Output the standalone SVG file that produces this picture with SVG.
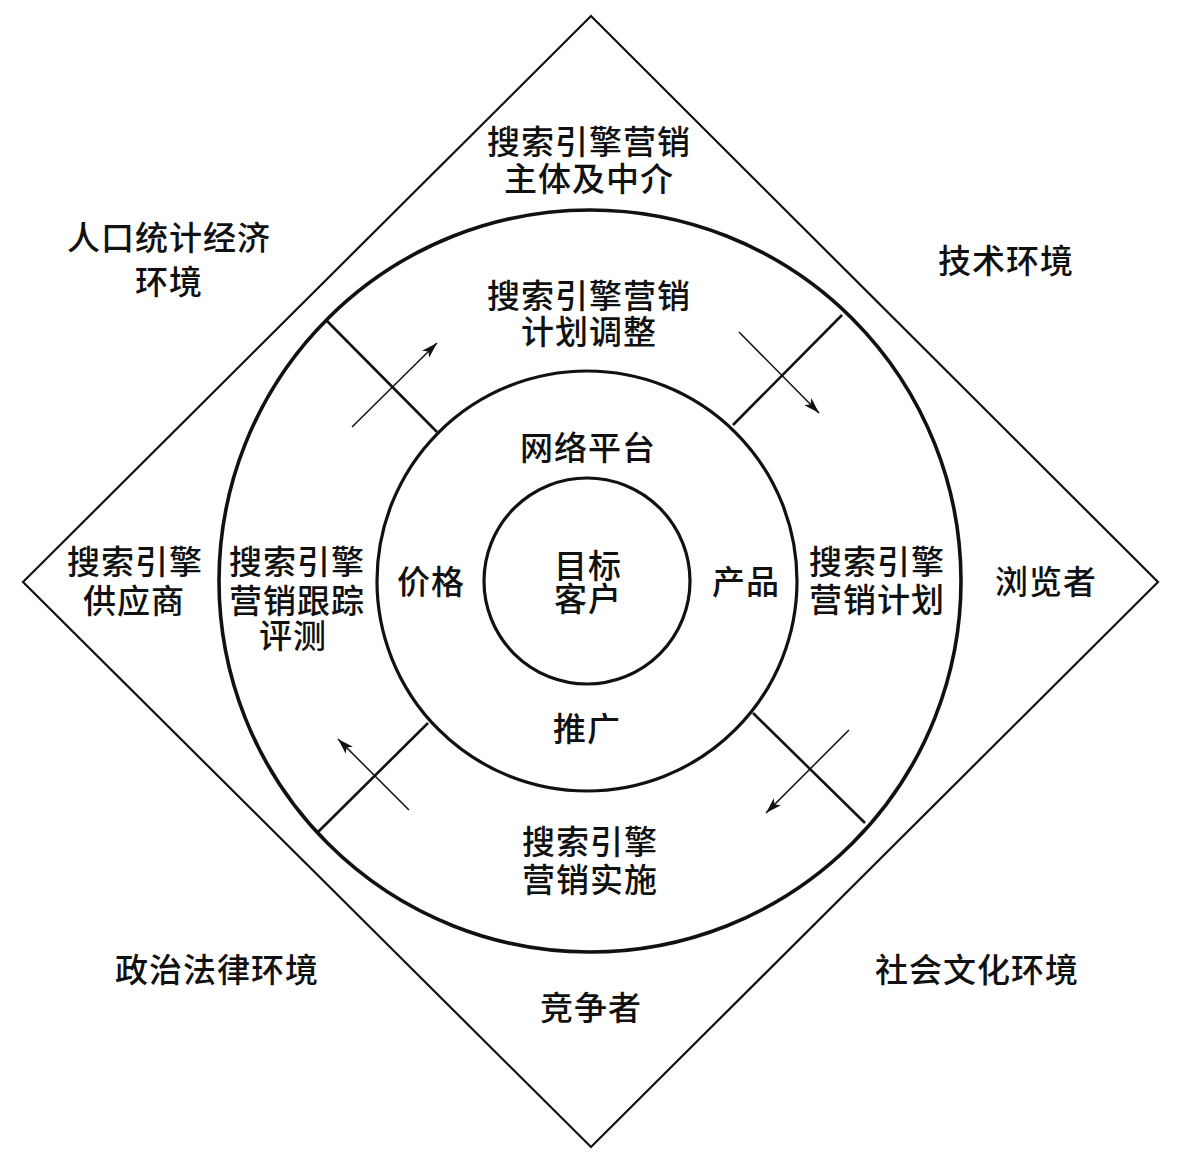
<svg xmlns="http://www.w3.org/2000/svg" width="1177" height="1171" viewBox="0 0 1177 1171">
<style>
text{font-family:"Noto Sans CJK SC","Noto Sans",sans-serif;font-size:33px;letter-spacing:1px;fill:#111;text-anchor:middle;font-weight:500}
.ring{fill:none;stroke:#111}
.div{stroke:#111;stroke-width:2.6;fill:none}
.arr{stroke:#111;stroke-width:1.5;fill:none;marker-end:url(#ah)}
</style>
<defs>
<marker id="ah" markerUnits="userSpaceOnUse" markerWidth="18" markerHeight="10" refX="16" refY="5" orient="auto">
<path d="M0,0 L16,5 L0,10 L4,5 Z" fill="#111"/>
</marker>
</defs>
<rect width="1177" height="1171" fill="#fff"/>
<g id="environment">
<polygon points="591,16 1158,582 591,1147 23,582" fill="none" stroke="#111" stroke-width="2.2"/>
</g>
<g id="outer-ring"><circle class="ring" cx="590" cy="581" r="371" stroke-width="3.6"/></g>
<g id="middle-ring"><circle class="ring" cx="587" cy="581" r="210" stroke-width="3.2"/></g>
<g id="inner-ring"><circle class="ring" cx="587" cy="581" r="103" stroke-width="3.2"/></g>
<g id="connectors">
<line class="div" x1="327" y1="321" x2="437" y2="432"/>
<line class="div" x1="733" y1="425" x2="842" y2="315"/>
<line class="div" x1="428" y1="723" x2="318" y2="832"/>
<line class="div" x1="753" y1="713" x2="865" y2="823"/>
<line class="arr" x1="352" y1="427" x2="437" y2="343"/>
<line class="arr" x1="739" y1="332" x2="819" y2="413"/>
<line class="arr" x1="849" y1="730" x2="766" y2="813"/>
<line class="arr" x1="409" y1="810" x2="338" y2="739"/>
</g>
<g id="n-subject"><text><tspan x="589" y="154">搜索引擎营销</tspan><tspan x="589" y="191">主体及中介</tspan></text></g>
<g id="n-demo"><text><tspan x="169" y="250">人口统计经济</tspan><tspan x="169" y="294">环境</tspan></text></g>
<g id="n-tech"><text x="1006" y="273">技术环境</text></g>
<g id="n-adjust"><text><tspan x="589" y="308">搜索引擎营销</tspan><tspan x="589" y="344">计划调整</tspan></text></g>
<g id="n-platform"><text x="588" y="460">网络平台</text></g>
<g id="n-supplier"><text><tspan x="135" y="574">搜索引擎</tspan><tspan x="134" y="613">供应商</tspan></text></g>
<g id="n-track"><text><tspan x="297" y="574">搜索引擎</tspan><tspan x="297" y="613">营销跟踪</tspan><tspan x="293" y="648">评测</tspan></text></g>
<g id="n-price"><text x="431" y="594">价格</text></g>
<g id="n-target"><text><tspan x="588" y="578">目标</tspan><tspan x="588" y="611">客户</tspan></text></g>
<g id="n-product"><text x="746" y="594">产品</text></g>
<g id="n-plan"><text><tspan x="877" y="574">搜索引擎</tspan><tspan x="877" y="612">营销计划</tspan></text></g>
<g id="n-browser"><text x="1046" y="594">浏览者</text></g>
<g id="n-promo"><text x="587" y="741">推广</text></g>
<g id="n-implement"><text><tspan x="590" y="854">搜索引擎</tspan><tspan x="590" y="892">营销实施</tspan></text></g>
<g id="n-politics"><text x="217" y="982">政治法律环境</text></g>
<g id="n-social"><text x="977" y="982">社会文化环境</text></g>
<g id="n-competitor"><text x="591" y="1020">竞争者</text></g>
</svg>
